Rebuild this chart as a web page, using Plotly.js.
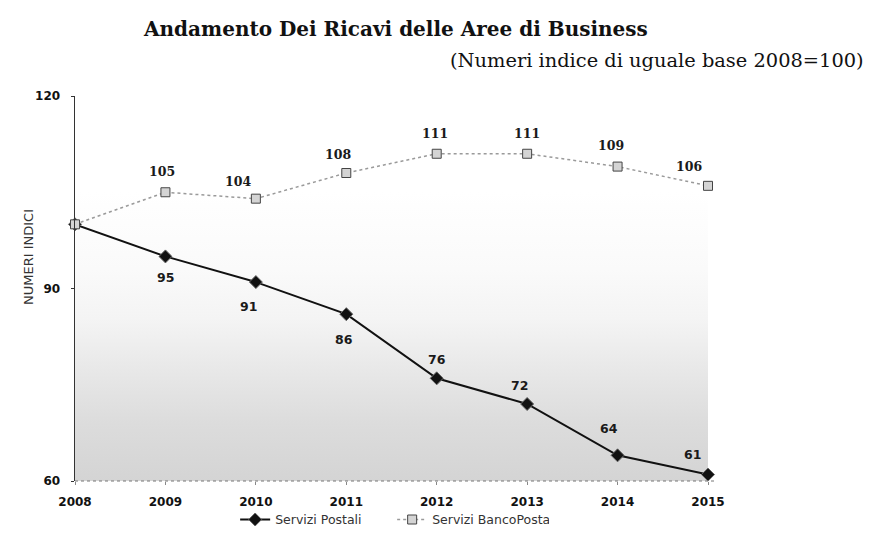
<!DOCTYPE html>
<html>
<head>
<meta charset="utf-8">
<script src="https://cdn.plot.ly/plotly-3.0.1.min.js"></script>
<style>
  html, body { margin: 0; padding: 0; background: #ffffff; }
  #chart { width: 882px; height: 540px; }
</style>
</head>
<body>
<div id="chart"></div>
<script>
// ---- data ----
const years = [2008, 2009, 2010, 2011, 2012, 2013, 2014, 2015];
const serviziPostali = [100, 95, 91, 86, 76, 72, 64, 61];
const serviziBancoPosta = [100, 105, 104, 108, 111, 111, 109, 106];
const yTickValues = [60, 90, 120];
const seriesNames = ['Servizi Postali', 'Servizi BancoPosta'];
const titleText = 'Andamento Dei Ricavi delle Aree di Business';
const subtitleText = '(Numeri indice di uguale base 2008=100)';
const yAxisTitle = 'NUMERI INDICI';

// ---- styling (label placement offsets in px) ----
const Y_MIN = 60, Y_MAX = 120;
const postaliShiftY = [0, -21, -24, -25, 19, 19, 27, 20];
const postaliShiftX = [0, 0, -7, -2, 0, -8, -9, -16];
const bancoShiftY = [0, 21, 17, 19, 20, 20, 21, 19];
const bancoShiftX = [0, -3, -18, -8, -2, 0, -7, -19];

const annotations = [];
years.forEach((yr, i) => {
  if (i === 0) return;
  annotations.push({
    x: yr, y: serviziPostali[i], xref: 'x', yref: 'y',
    text: String(serviziPostali[i]), showarrow: false,
    xshift: postaliShiftX[i], yshift: postaliShiftY[i],
    font: { family: 'DejaVu Sans', size: 12.5, color: '#1a1a1a', weight: 'bold' }
  });
  annotations.push({
    x: yr, y: serviziBancoPosta[i], xref: 'x', yref: 'y',
    text: String(serviziBancoPosta[i]), showarrow: false,
    xshift: bancoShiftX[i], yshift: bancoShiftY[i],
    font: { family: 'DejaVu Serif', size: 12.5, color: '#1a1a1a', weight: 'bold' }
  });
});
annotations.push({
  xref: 'paper', yref: 'paper', x: 1.2496, y: 1.0935,
  xanchor: 'right', yanchor: 'middle', showarrow: false,
  text: subtitleText,
  font: { family: 'DejaVu Serif', size: 19.4, color: '#111' }
});
annotations.push({
  xref: 'paper', yref: 'paper', x: (28 - 75) / 633, y: (481 - 257) / 385,
  xanchor: 'center', yanchor: 'middle', showarrow: false, textangle: -90,
  text: yAxisTitle,
  font: { family: 'DejaVu Sans', size: 13, color: '#333' }
});

const traces = [
  {
    // stippled background approximated by a vertical gradient
    x: years, y: years.map(() => Y_MAX),
    type: 'scatter', mode: 'lines', fill: 'tozeroy',
    line: { width: 0, color: 'rgba(0,0,0,0)' },
    fillcolor: '#eeeeee',
    fillgradient: {
      type: 'vertical', start: Y_MIN, stop: Y_MAX,
      colorscale: [[0, '#d4d4d4'], [0.15, '#dcdcdc'], [0.3, '#e9e9e9'],
                   [0.42, '#f4f4f4'], [0.55, '#fafafa'], [0.75, '#ffffff'], [1, '#ffffff']]
    },
    hoverinfo: 'skip', showlegend: false
  },
  {
    x: years, y: serviziPostali, name: seriesNames[0],
    type: 'scatter', mode: 'lines+markers', cliponaxis: false,
    line: { color: '#111111', width: 2 },
    marker: { symbol: 'diamond', size: 10, color: '#111111', line: { color: '#666', width: 1 } }
  },
  {
    x: years, y: serviziBancoPosta, name: seriesNames[1],
    type: 'scatter', mode: 'lines+markers', cliponaxis: false,
    line: { color: '#9a9a9a', width: 1.5, dash: 'dot' },
    marker: { symbol: 'square', size: 9, color: '#d4d4d4', line: { color: '#444', width: 1 } }
  }
];

const layout = {
  width: 882, height: 540,
  margin: { l: 75, r: 174, t: 96, b: 59, autoexpand: false },
  paper_bgcolor: '#ffffff', plot_bgcolor: '#ffffff',
  title: {
    text: '<b>' + titleText + '</b>',
    font: { family: 'DejaVu Serif', size: 20, color: '#111' },
    xref: 'container', yref: 'container',
    x: 144 / 882, xanchor: 'left', y: 1 - 29 / 540, yanchor: 'middle'
  },
  xaxis: {
    range: [2008, 2015], tickvals: years, ticktext: years.map(String),
    showgrid: false, zeroline: false, showline: false,
    ticks: 'outside', ticklen: 3, tickcolor: '#888',
    ticklabelstandoff: 7,
    tickfont: { family: 'DejaVu Sans', size: 12, color: '#111', weight: 'bold' }
  },
  yaxis: {
    range: [Y_MIN, Y_MAX], tickvals: yTickValues,
    showgrid: false, zeroline: false,
    showline: true, linecolor: '#333', linewidth: 1.5,
    ticks: 'outside', ticklen: 3, tickcolor: '#333',
    ticklabelstandoff: 8,
    tickfont: { family: 'DejaVu Sans', size: 12, color: '#111', weight: 'bold' }
  },
  shapes: [{
    type: 'line', xref: 'paper', yref: 'paper', x0: 0, x1: 1.01, y0: 0, y1: 0,
    line: { color: '#777', width: 1, dash: 'dot' }
  }],
  legend: {
    orientation: 'h', x: 0.253, xanchor: 'left', y: -0.101, yanchor: 'middle',
    font: { family: 'DejaVu Sans', size: 12.5, color: '#333' },
    bgcolor: 'rgba(0,0,0,0)', itemwidth: 30, entrywidth: 112
  },
  annotations: annotations,
  showlegend: true
};

Plotly.newPlot('chart', traces, layout, { displayModeBar: false, staticPlot: true });
</script>
</body>
</html>
